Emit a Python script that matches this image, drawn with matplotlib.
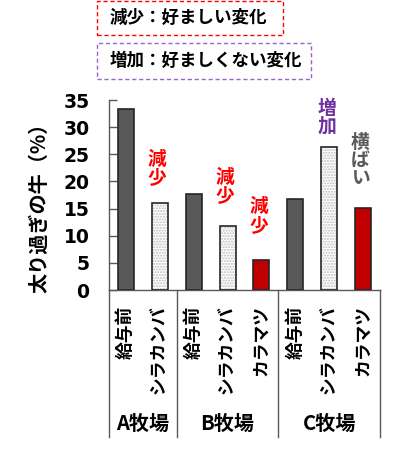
import matplotlib
matplotlib.use('Agg')
import matplotlib.pyplot as plt
from matplotlib.patches import Rectangle

# ---------------- data ----------------
farms = ['A牧場', 'B牧場', 'C牧場']
treatments = [['給与前', 'シラカンバ'],
              ['給与前', 'シラカンバ', 'カラマツ'],
              ['給与前', 'シラカンバ', 'カラマツ']]
values = [[33.4, 16.0],
          [17.7, 11.7, 5.5],
          [16.8, 26.3, 15.1]]
change_labels = [[None, '減少'],
                 [None, '減少', '減少'],
                 [None, '増加', '横ばい']]
yticks = [0, 5, 10, 15, 20, 25, 30, 35]
ylabel = '太り過ぎの牛（%）'
legend_texts = ['減少：好ましい変化', '増加：好ましくない変化']

# ---------------- style ----------------
plt.rcParams['font.family'] = ['Noto Sans CJK JP', 'DejaVu Sans']
W, H = 400, 449
bar_colors = {'給与前': '#595959', 'シラカンバ': 'white', 'カラマツ': '#C00000'}
label_colors = {'減少': '#FF0000', '増加': '#7030A0', '横ばい': '#595959'}
label_offsets = [[0, 3.0], [0, 3.9, 4.7], [0, 2.1, 3.6]]
axis_color = '#595959'

fig = plt.figure(figsize=(W / 100, H / 100), dpi=100)
ax = fig.add_axes([109 / W, 1 - 290 / H, 271 / W, 190 / H])

xs, labels = [], []
pos = 0
group_edges = [-0.5]
group_centers = []
for g, (tr, vals, chs) in enumerate(zip(treatments, values, change_labels)):
    start = pos
    for t, v, c, off in zip(tr, vals, chs, label_offsets[g]):
        if t == 'シラカンバ':
            ax.bar(pos, v, width=0.47, color='white', edgecolor='#bdbdbd',
                   hatch='......', linewidth=0, zorder=2)
            ax.bar(pos, v, width=0.47, color='none', edgecolor='#262626',
                   linewidth=1.2, zorder=3)
        else:
            ax.bar(pos, v, width=0.47, color=bar_colors[t], edgecolor='#262626',
                   linewidth=1.2, zorder=3)
        if c:
            ax.text(pos - 0.08, v + off, '\n'.join(c), ha='center', va='bottom',
                    color=label_colors[c], fontsize=13.5, fontweight='bold',
                    linespacing=0.95, zorder=4)
        xs.append(pos)
        labels.append(t)
        pos += 1
    group_centers.append((start + pos - 1) / 2)
    group_edges.append(pos - 0.5)

ax.set_xlim(-0.5, pos - 0.5)
ax.set_ylim(0, 35)
ax.set_yticks(yticks)
ax.set_yticklabels([str(v) for v in yticks], family='DejaVu Sans',
                   fontsize=13.5, fontweight='bold')
ax.tick_params(axis='y', direction='in', length=6, width=1, color=axis_color, pad=14)
ax.set_xticks(xs)
ax.set_xticklabels(labels, rotation=90, va='top', ha='center',
                   fontsize=12.8, fontweight='bold')
ax.tick_params(axis='x', length=0, pad=11)

for s in ['top', 'right']:
    ax.spines[s].set_visible(False)
for s in ['left', 'bottom']:
    ax.spines[s].set_color(axis_color)
    ax.spines[s].set_linewidth(1)

# group separators below the axis
trans = ax.get_xaxis_transform()
for e in group_edges:
    ax.plot([e, e], [0, -0.775], transform=trans, color=axis_color,
            linewidth=1, clip_on=False)
for gc, f in zip(group_centers, farms):
    ax.text(gc, -0.70, f, transform=trans, ha='center', va='center',
            fontsize=14.5, fontweight='bold')

fig.text(39 / W, 1 - 203 / H, ylabel, rotation=90, ha='center', va='center',
         fontsize=14.5, fontweight='bold')

# legend-like dashed boxes
boxes = [((97, 1, 283, 35), '#FF0000'), ((97, 43, 311, 79), '#9966CC')]
for ((x0, y0, x1, y1), col), txt in zip(boxes, legend_texts):
    fig.patches.append(Rectangle((x0 / W, 1 - y1 / H), (x1 - x0) / W, (y1 - y0) / H,
                                 transform=fig.transFigure, fill=False,
                                 edgecolor=col, linewidth=1,
                                 linestyle=(0, (3, 2))))
    fig.text(110 / W, 1 - ((y0 + y1) / 2) / H, txt, ha='left', va='center',
             fontsize=12.6, fontweight='bold')

fig.savefig('out.png', dpi=100)
